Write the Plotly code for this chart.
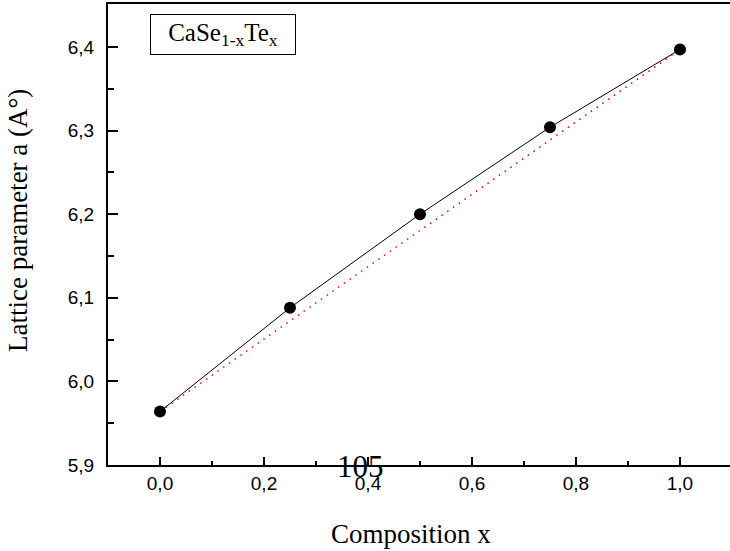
import plotly.graph_objects as go

# Data
composition_x = [0.0, 0.25, 0.5, 0.75, 1.0]
lattice_a = [5.964, 6.088, 6.200, 6.304, 6.397]

# Vegard's law (straight line between end members)
vegard_x = [0.0, 1.0]
vegard_a = [5.964, 6.397]

fig = go.Figure()

fig.add_trace(go.Scatter(
    x=vegard_x, y=vegard_a, mode="lines",
    line=dict(color="red", width=1.5, dash="1.5px,5.5px"),
    showlegend=False, hoverinfo="skip"))

fig.add_trace(go.Scatter(
    x=composition_x, y=lattice_a, mode="lines+markers",
    line=dict(color="black", width=1),
    marker=dict(color="black", size=12),
    showlegend=False))

serif = "Liberation Serif, Times New Roman, serif"
sans = "Liberation Sans, Arial, sans-serif"

fig.update_layout(
    width=730, height=551,
    margin=dict(l=108, r=0, t=4, b=86),
    paper_bgcolor="white", plot_bgcolor="white",
    separators=",.",
    font=dict(family=sans, size=19, color="black"),
    xaxis=dict(
        range=[-0.1, 1.0962], tickvals=[0.0, 0.2, 0.4, 0.6, 0.8, 1.0],
        tickformat=".1f", ticks="inside", ticklen=8, tickwidth=2,
        tickcolor="black", showline=True, linewidth=2, linecolor="black",
        mirror=True, showgrid=False, zeroline=False,
        ticklabelstandoff=0,
        minor=dict(tickvals=[0.1, 0.3, 0.5, 0.7, 0.9], ticks="inside",
                   ticklen=4, tickwidth=2, tickcolor="black"),
        tickfont=dict(family=sans, size=19)),
    yaxis=dict(
        range=[5.9, 6.4514], tickvals=[5.9, 6.0, 6.1, 6.2, 6.3, 6.4],
        tickformat=".1f", ticks="inside", ticklen=10, tickwidth=2,
        tickcolor="black", showline=True, linewidth=2, linecolor="black",
        showgrid=False, zeroline=False, ticklabelstandoff=8,
        minor=dict(tickvals=[5.95, 6.05, 6.15, 6.25, 6.35], ticks="inside",
                   ticklen=6, tickwidth=2, tickcolor="black"),
        tickfont=dict(family=sans, size=19)),
)

fig.add_annotation(
    x=0.483, xref="x", y=-0.15, yref="paper",
    text="Composition x", showarrow=False,
    font=dict(family=serif, size=27, color="black"),
    xanchor="center", yanchor="middle")

fig.add_annotation(
    x=-0.145, xref="paper", y=0.531, yref="paper",
    text="Lattice parameter a (A°)", showarrow=False, textangle=-90,
    font=dict(family=serif, size=27, color="black"),
    xanchor="center", yanchor="middle")

fig.add_annotation(
    x=0.121, xref="x", y=6.415, yref="y",
    text="CaSe<sub>1-x</sub>Te<sub>x</sub>", showarrow=False,
    font=dict(family=serif, size=25, color="black"),
    bordercolor="black", borderwidth=1, borderpad=0,
    width=144, height=39, bgcolor="white",
    xanchor="center", yanchor="middle")

fig.add_annotation(
    x=0.385, xref="x", y=-0.004, yref="paper",
    text="105", showarrow=False,
    font=dict(family=serif, size=31, color="black"),
    xanchor="center", yanchor="middle")

fig.write_html("out.html", config={"displayModeBar": False},
               post_script="document.body.style.margin='0px';")
